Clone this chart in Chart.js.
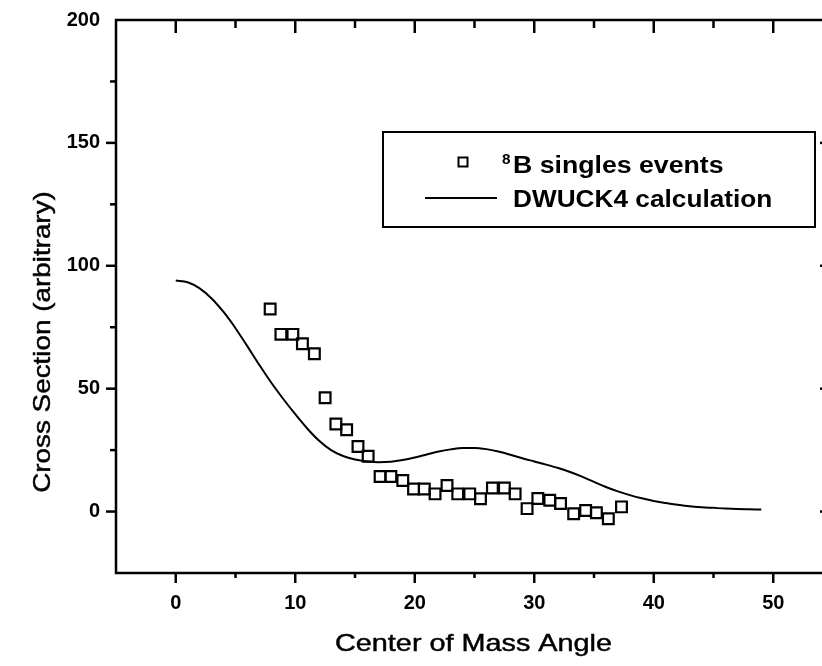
<!DOCTYPE html>
<html>
<head>
<meta charset="utf-8">
<script src="https://cdn.jsdelivr.net/npm/chart.js@4/dist/chart.umd.min.js"></script>
<style>
  html, body { margin: 0; padding: 0; background: #fff; overflow: hidden; }
  #wrap { width: 822px; height: 666px; overflow: hidden; }
</style>
</head>
<body>
<div id="wrap"><canvas id="myChart" width="850" height="666"></canvas></div>
<script>
// measured angles (deg) and cross sections of the 8B singles events
var eventAngles = [7.9, 8.8, 9.8, 10.6, 11.6, 12.5, 13.4, 14.3, 15.25, 16.1, 17.1, 18.0,
  19.0, 19.9, 20.8, 21.7, 22.7, 23.6, 24.6, 25.5, 26.5, 27.5, 28.4, 29.4,
  30.3, 31.3, 32.2, 33.3, 34.3, 35.2, 36.2, 37.3];
var eventValues = [82.4, 72.1, 72.1, 68.3, 64.2, 46.3, 35.6, 33.3, 26.5, 22.5, 14.3, 14.3,
  12.6, 9.2, 9.2, 7.2, 10.6, 7.2, 7.2, 5.2, 9.6, 9.6, 7.2, 1.2,
  5.3, 4.6, 3.3, -0.9, 0.4, -0.5, -2.9, 1.9];

// DWUCK4 calculation
var calcAngles = [0, 1, 2, 3, 4, 5, 6, 7, 8, 9, 10, 11, 12, 13, 14, 15, 16, 17, 18, 19, 20,
  21, 22, 23, 24, 25, 26, 27, 28, 29, 30, 31, 32, 33, 34, 35, 36, 37, 38, 39, 40,
  41, 42, 43, 44, 45, 46, 47, 48, 49];
var calcValues = [94, 93.3, 90.8, 86.7, 81.2, 74.6, 67.2, 59.6, 52.4, 45.8, 39.6, 33.8, 28.8, 25, 22.6, 21.2, 20.4, 20.1, 20.3, 21, 22,
  23.2, 24.4, 25.3, 25.9, 25.9, 25.4, 24.4, 23.1, 21.7, 20.4, 19.1, 17.7, 16.1, 14.2, 12.1, 10, 8.2, 6.7, 5.4, 4.3,
  3.5, 2.8, 2.2, 1.8, 1.5, 1.2, 1.0, 0.9, 0.8];

var xTicks = [0, 10, 20, 30, 40, 50];
var yTicks = [0, 50, 100, 150, 200];

var xTitle = 'Center of Mass Angle';
var yTitle = 'Cross Section (arbitrary)';
var seriesNames = ['B singles events', 'DWUCK4 calculation'];

function pairs(xs, ys) {
  return xs.map(function (v, i) { return { x: v, y: ys[i] }; });
}

function wideText(ctx, text, x, y, sx, heavy) {
  ctx.save();
  ctx.translate(x, y);
  ctx.scale(sx, 1);
  ctx.fillText(text, 0, 0);
  if (heavy) { ctx.lineWidth = heavy; ctx.strokeText(text, 0, 0); }
  ctx.restore();
}

// frame, inner/outer ticks, axis titles and legend box
var framePlugin = {
  id: 'frame',
  beforeDraw: function (chart) {
    var c = chart.ctx;
    c.save();
    c.fillStyle = '#fff';
    c.fillRect(0, 0, chart.width, chart.height);
    c.restore();
  },
  afterDraw: function (chart) {
    var c = chart.ctx, a = chart.chartArea;
    var xs = chart.scales.x, ys = chart.scales.y;
    c.save();
    c.strokeStyle = '#000';
    c.lineWidth = 2.5;
    c.strokeRect(a.left, a.top, a.right - a.left, a.bottom - a.top);

    function seg(x1, y1, x2, y2) {
      c.beginPath(); c.moveTo(x1, y1); c.lineTo(x2, y2); c.stroke();
    }
    for (var v = 0; v < xs.max; v += 5) {
      var px = xs.getPixelForValue(v);
      var big = v % 10 === 0;
      seg(px, a.bottom, px, a.bottom + (big ? 10 : 5));
      seg(px, a.top, px, a.top + (big ? 13 : 8));
    }
    for (var w = 0; w < ys.max; w += 25) {
      var py = ys.getPixelForValue(w);
      var major = w % 50 === 0;
      seg(a.left - (major ? 10 : 6), py, a.left, py);
      seg(a.right - (major ? 13 : 8), py, a.right, py);
    }

    c.fillStyle = '#000';
    // axis titles
    c.font = '24px "Liberation Sans", Arial, sans-serif';
    c.textAlign = 'center';
    c.textBaseline = 'alphabetic';
    wideText(c, xTitle, (a.left + a.right) / 2 - 1, 651, 1.2, 0.45);
    c.save();
    c.translate(50, 342);
    c.rotate(-Math.PI / 2);
    c.scale(1.16, 1);
    c.fillText(yTitle, 0, 0);
    c.lineWidth = 0.45;
    c.strokeText(yTitle, 0, 0);
    c.restore();

    // legend
    c.lineWidth = 2;
    c.strokeRect(383, 132, 432, 95);
    c.strokeRect(458.5, 157.5, 9, 9);
    c.lineWidth = 1.8;
    seg(425, 198, 497, 198);
    c.textAlign = 'left';
    c.font = 'bold 14px "Liberation Sans", Arial, sans-serif';
    wideText(c, '8', 502, 164, 1.1);
    c.font = 'bold 23px "Liberation Sans", Arial, sans-serif';
    wideText(c, seriesNames[0], 513, 173, 1.16);
    wideText(c, seriesNames[1], 513, 207, 1.14);
    c.restore();
  }
};

var ctx = document.getElementById('myChart').getContext('2d');
var chart = new Chart(ctx, {
  type: 'scatter',
  data: {
    datasets: [{
      label: seriesNames[0],
      data: pairs(eventAngles, eventValues),
      pointStyle: 'rect',
      pointRadius: 7.6,
      pointHoverRadius: 7.6,
      borderWidth: 2.2,
      borderColor: '#000',
      backgroundColor: 'rgba(0,0,0,0)',
      showLine: false
    }, {
      label: seriesNames[1],
      data: pairs(calcAngles, calcValues),
      showLine: true,
      pointRadius: 0,
      borderColor: '#000',
      borderWidth: 2,
      cubicInterpolationMode: 'monotone'
    }]
  },
  options: {
    responsive: false,
    animation: false,
    devicePixelRatio: 1,
    layout: { padding: { left: 0, top: 20, right: 17, bottom: 0 } },
    plugins: { legend: { display: false }, tooltip: { enabled: false } },
    scales: {
      x: {
        type: 'linear',
        min: -5,
        max: 55,
        grid: { display: false, drawTicks: false },
        border: { display: false },
        afterBuildTicks: function (s) { s.ticks = xTicks.map(function (v) { return { value: v }; }); },
        afterFit: function (s) { s.height = 93; s.paddingLeft = 0; s.paddingRight = 0; },
        ticks: {
          padding: 18,
          maxRotation: 0,
          color: '#000',
          font: { family: '"Liberation Sans", Arial, sans-serif', size: 20, weight: 'bold' }
        }
      },
      y: {
        type: 'linear',
        min: -25,
        max: 200,
        grid: { display: false, drawTicks: false },
        border: { display: false },
        afterBuildTicks: function (s) { s.ticks = yTicks.map(function (v) { return { value: v }; }); },
        afterFit: function (s) { s.width = 116; s.paddingTop = 0; s.paddingBottom = 0; },
        ticks: {
          padding: 16,
          color: '#000',
          font: { family: '"Liberation Sans", Arial, sans-serif', size: 20, weight: 'bold' }
        }
      }
    }
  },
  plugins: [framePlugin]
});
</script>
</body>
</html>
